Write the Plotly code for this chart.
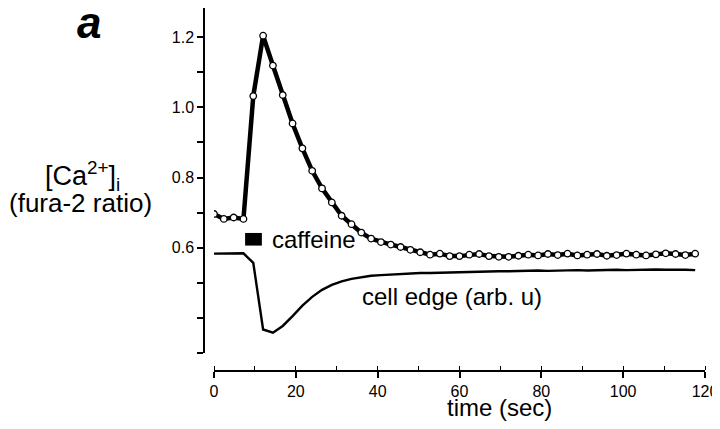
import plotly.graph_objects as go

# sample times (s), 2.4 s sampling
time_s = [i * 2.4 for i in range(50)]

ca_ratio = [0.696, 0.682, 0.686, 0.682, 1.032, 1.204, 1.119, 1.035, 0.954, 0.883,
            0.819, 0.769, 0.729, 0.691, 0.667, 0.643, 0.626, 0.616, 0.609, 0.602,
            0.594, 0.587, 0.580, 0.583, 0.576, 0.576, 0.580, 0.582, 0.576, 0.574,
            0.574, 0.577, 0.580, 0.578, 0.582, 0.579, 0.583, 0.578, 0.580, 0.582,
            0.577, 0.579, 0.583, 0.580, 0.578, 0.581, 0.584, 0.582, 0.579, 0.583]

cell_edge = [0.583, 0.584, 0.585, 0.584, 0.557, 0.367, 0.358, 0.377, 0.405, 0.435,
             0.460, 0.480, 0.494, 0.504, 0.511, 0.516, 0.520, 0.522, 0.524, 0.525,
             0.527, 0.528, 0.528, 0.529, 0.530, 0.531, 0.530, 0.532, 0.532, 0.533,
             0.533, 0.534, 0.534, 0.535, 0.534, 0.535, 0.536, 0.536, 0.535, 0.536,
             0.537, 0.537, 0.536, 0.537, 0.538, 0.538, 0.537, 0.538, 0.537, 0.536]

caffeine_on = [7.6, 11.7]

y_tickvals = [0.3, 0.4, 0.5, 0.6, 0.7, 0.8, 0.9, 1.0, 1.1, 1.2]
y_ticktext = ["", "", "", "0.6", "", "0.8", "", "1.0", "", "1.2"]
x_tickvals = [0, 20, 40, 60, 80, 100, 120]

W, H = 720, 421
FONT = "Liberation Sans, Arial, sans-serif"

# page body margin offsets the figure by 8 px
X0, Y0 = 8.0, 8.0

def fx(x):
    return (x - X0) / W

def fy(y):
    return 1 - (y - Y0) / H

fig = go.Figure()
fig.add_trace(go.Scatter(x=time_s, y=cell_edge, mode="lines",
                         line=dict(color="black", width=2.4), showlegend=False))
fig.add_trace(go.Scatter(x=time_s, y=ca_ratio, mode="lines+markers",
                         line=dict(color="black", width=4.5),
                         marker=dict(symbol="circle", size=6.5, color="white",
                                     line=dict(color="black", width=1.3)),
                         showlegend=False))

fig.add_shape(type="rect", xref="x", yref="y",
              x0=caffeine_on[0], x1=caffeine_on[1], y0=0.606, y1=0.642,
              fillcolor="black", line=dict(width=0))

fig.add_annotation(x=13.7, y=0.623, xref="x", yref="y", text="caffeine",
                   showarrow=False, xanchor="left", yanchor="middle",
                   font=dict(family=FONT, size=24, color="black"))
fig.add_annotation(x=35.7, y=0.461, xref="x", yref="y", text="cell edge (arb. u)",
                   showarrow=False, xanchor="left", yanchor="middle",
                   font=dict(family=FONT, size=24, color="black"))

fig.add_annotation(x=fx(89), y=fy(22), xref="paper", yref="paper", text="<b><i>a</i></b>",
                   showarrow=False, xanchor="center", yanchor="middle",
                   font=dict(family=FONT, size=44, color="black"))
fig.add_annotation(x=fx(82), y=fy(176), xref="paper", yref="paper",
                   text="[Ca<sup>2+</sup>]<sub>i</sub>",
                   showarrow=False, xanchor="center", yanchor="middle",
                   font=dict(family=FONT, size=27, color="black"))
fig.add_annotation(x=fx(80), y=fy(203), xref="paper", yref="paper",
                   text="(fura-2 ratio)",
                   showarrow=False, xanchor="center", yanchor="middle",
                   font=dict(family=FONT, size=26, color="black"))
fig.add_annotation(x=fx(499), y=fy(407), xref="paper", yref="paper", text="time (sec)",
                   showarrow=False, xanchor="center", yanchor="middle",
                   font=dict(family=FONT, size=24, color="black"))

fig.update_layout(
    width=W, height=H,
    margin=dict(l=0, r=0, t=0, b=0, autoexpand=False),
    paper_bgcolor="white", plot_bgcolor="white",
    font=dict(family=FONT, color="black"),
    xaxis=dict(domain=[fx(214), fx(705)], range=[0, 120], anchor="free",
               position=fy(371), showline=True, linecolor="black", linewidth=1.5,
               showgrid=False, zeroline=False, automargin=False,
               tickmode="array", tickvals=x_tickvals,
               ticks="outside", ticklen=6, tickwidth=1.5, tickcolor="black",
               tickfont=dict(family=FONT, size=16, color="black"),
               minor=dict(dtick=10, tick0=0, ticks="inside", ticklen=4,
                          tickwidth=1.2, tickcolor="black", showgrid=False)),
    yaxis=dict(domain=[fy(353), 1.0], range=[0.3, 0.3 + (353 - Y0) / 351.0],
               anchor="free", position=fx(204), showline=True, linecolor="black",
               linewidth=1.5, showgrid=False, zeroline=False, automargin=False,
               tickmode="array", tickvals=y_tickvals, ticktext=y_ticktext,
               ticks="outside", ticklen=6, tickwidth=1.5, tickcolor="black",
               tickfont=dict(family=FONT, size=16, color="black")),
)

fig.write_html("out.html")
